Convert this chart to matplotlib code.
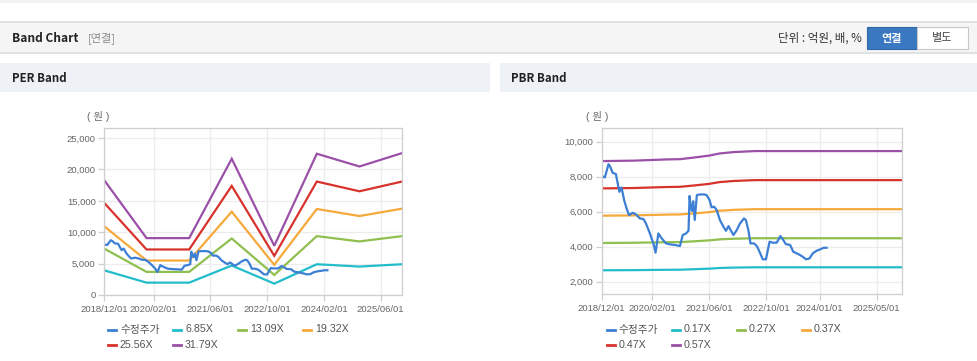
import matplotlib
matplotlib.use("Agg")
import matplotlib.pyplot as plt
import pandas as pd
from matplotlib.patches import Rectangle
from matplotlib.lines import Line2D
from matplotlib.ticker import FuncFormatter

# ---------------- data ----------------
price_dates = ["2018-12-01", "2018-12-28", "2019-01-28", "2019-02-12", "2019-03-04", "2019-04-01",
               "2019-04-22", "2019-05-01", "2019-05-19", "2019-06-10", "2019-07-01", "2019-07-22",
               "2019-08-22", "2019-09-19", "2019-10-22", "2019-11-22", "2019-12-13", "2020-01-16",
               "2020-02-16", "2020-03-04", "2020-03-28", "2020-04-25", "2020-06-01", "2020-07-10",
               "2020-08-16", "2020-09-28", "2020-10-22", "2020-11-19", "2020-12-10", "2020-12-19",
               "2020-12-28", "2021-01-08", "2021-01-19", "2021-02-01", "2021-02-19", "2021-03-16",
               "2021-04-22", "2021-05-13", "2021-06-07", "2021-06-25", "2021-07-16", "2021-08-07",
               "2021-09-04", "2021-10-04", "2021-10-25", "2021-11-16", "2021-12-04", "2021-12-28",
               "2022-01-25", "2022-02-22", "2022-03-28", "2022-04-13", "2022-05-04", "2022-05-22",
               "2022-06-22", "2022-07-19", "2022-08-13", "2022-09-04", "2022-10-01", "2022-11-01",
               "2022-11-28", "2023-01-01", "2023-02-01", "2023-02-22", "2023-03-19", "2023-04-25",
               "2023-05-22", "2023-07-04", "2023-08-10", "2023-09-07", "2023-10-07", "2023-11-04",
               "2023-12-07", "2024-01-07", "2024-02-04", "2024-03-01"]
price_values = [8040, 7960, 8720, 8570, 8230, 8150,
                7430, 7140, 7390, 6670, 6190, 5810,
                5940, 5850, 5620, 5580, 5330, 4760,
                4150, 3660, 4760, 4480, 4190, 4130,
                4100, 4040, 4670, 4760, 4910, 6900,
                6350, 6050, 6600, 5530, 6950, 6990,
                6990, 6950, 6670, 6250, 6290, 6100,
                5520, 5140, 4910, 5180, 4950, 4670,
                4950, 5330, 5620, 5520, 4950, 4190,
                4190, 4000, 3620, 3280, 3280, 4290,
                4230, 4230, 4610, 4420, 4150, 4100,
                3710, 3580, 3430, 3280, 3330, 3620,
                3770, 3850, 3940, 3940]

per_dates = ["2018-12-01", "2019-12-01", "2020-12-01", "2021-12-01",
             "2022-12-01", "2023-12-01", "2024-12-01", "2025-12-01"]
per_labels = ["6.85X", "13.09X", "19.32X", "25.56X", "31.79X"]
per_685 = [3940, 1970, 1970, 4690, 1810, 4900, 4530, 4900]
per_1309 = [7410, 3680, 3680, 9000, 3200, 9380, 8530, 9380]
per_1932 = [10980, 5490, 5490, 13270, 4800, 13700, 12580, 13750]
per_2556 = [14710, 7250, 7250, 17380, 6240, 18070, 16520, 18070]
per_3179 = [18340, 9060, 9060, 21700, 7840, 22500, 20470, 22600]

pbr_dates = ["2018-12-01", "2019-09-01", "2020-06-01", "2020-10-01", "2021-02-01",
             "2021-06-01", "2021-09-01", "2022-01-01", "2022-07-01", "2025-12-01"]
pbr_labels = ["0.17X", "0.27X", "0.37X", "0.47X", "0.57X"]
pbr_017 = [2653, 2661, 2681, 2686, 2715, 2746, 2783, 2807, 2824, 2824]
pbr_027 = [4213, 4226, 4258, 4266, 4312, 4361, 4420, 4458, 4485, 4485]
pbr_037 = [5774, 5791, 5835, 5846, 5909, 5976, 6057, 6109, 6146, 6146]
pbr_047 = [7334, 7356, 7412, 7426, 7506, 7591, 7694, 7760, 7807, 7807]
pbr_057 = [8895, 8921, 8989, 9006, 9103, 9206, 9331, 9411, 9468, 9468]

price_label = "수정주가"
per_xticks = ["2018/12/01", "2020/02/01", "2021/06/01", "2022/10/01", "2024/02/01", "2025/06/01"]
pbr_xticks = ["2018/12/01", "2020/02/01", "2021/06/01", "2022/10/01", "2024/01/01", "2025/05/01"]
per_yticks = [0, 5000, 10000, 15000, 20000, 25000]
pbr_yticks = [2000, 4000, 6000, 8000, 10000]

# ---------------- style ----------------
series_colors = ["#3d7fd4", "#22bccb", "#8fbf4e", "#f6a93b", "#d8322c", "#9b50a8"]
FONT = ["Liberation Sans", "Noto Sans CJK KR"]
KFONT = ["Noto Sans CJK KR", "DejaVu Sans"]
plt.rcParams["font.family"] = FONT

W, H = 978, 361
fig = plt.figure(figsize=(W / 100, H / 100), dpi=100)
fig.patch.set_facecolor("white")


def fx(x):
    return x / W


def fy(y):
    return 1 - y / H


def rect(x0, y0, x1, y1, **kw):
    fig.add_artist(Rectangle((fx(x0), fy(y1)), (x1 - x0) / W, (y1 - y0) / H,
                             transform=fig.transFigure, **kw))


def hline(x0, x1, y, color, lw=1):
    fig.add_artist(Line2D([fx(x0), fx(x1)], [fy(y), fy(y)], transform=fig.transFigure,
                          color=color, lw=lw))


# top faint band
rect(0, 0, W, 3, facecolor="#f3f3f3", edgecolor="none")
# header box
rect(0, 22, W, 52, facecolor="#f5f5f5", edgecolor="none")
hline(0, W, 22, "#dcdcdc", 1.2)
hline(0, W, 52.5, "#e2e2e2", 1.5)
fig.text(fx(12), fy(38.5), "Band Chart", family=KFONT, fontsize=8.6, fontweight="bold",
         color="#222222", va="center", ha="left")
fig.text(fx(88), fy(38.5), "[연결]", family=KFONT, fontsize=8.0, color="#8a8a8a",
         va="center", ha="left")
fig.text(fx(862), fy(38.5), "단위 : 억원, 배, %", family=KFONT, fontsize=8.3, color="#333333",
         va="center", ha="right")
rect(867, 27, 917, 49, facecolor="#3a79c2", edgecolor="#2f66a8", lw=0.8)
fig.text(fx(892), fy(38.5), "연결", family=KFONT, fontsize=8.0, fontweight="bold",
         color="white", va="center", ha="center")
rect(917, 27, 968, 49, facecolor="white", edgecolor="#c8c8c8", lw=0.8)
fig.text(fx(942.5), fy(38.5), "별도", family=KFONT, fontsize=8.0, color="#444444",
         va="center", ha="center")

# panel headers
rect(0, 63, 490, 92, facecolor="#eef2f7", edgecolor="none")
rect(500, 63, W, 92, facecolor="#eef2f7", edgecolor="none")
fig.text(fx(12), fy(78), "PER Band", family=KFONT, fontsize=8.3, fontweight="bold",
         color="#222222", va="center", ha="left")
fig.text(fx(511), fy(78), "PBR Band", family=KFONT, fontsize=8.3, fontweight="bold",
         color="#222222", va="center", ha="left")


def style_axes(ax, xticks, yticks, ylim):
    ax.set_xlim(pd.Timestamp("2018-12-01"), pd.Timestamp("2025-12-01"))
    ax.set_ylim(*ylim)
    tick_dates = pd.to_datetime(xticks, format="%Y/%m/%d")
    ax.set_xticks(tick_dates)
    ax.set_xticklabels(xticks)
    ax.set_yticks(yticks)
    ax.yaxis.set_major_formatter(FuncFormatter(lambda v, p: f"{v:,.0f}"))
    for s in ax.spines.values():
        s.set_color("#cfcfcf")
        s.set_linewidth(0.9)
    ax.grid(True, color="#ececec", lw=0.9)
    ax.set_axisbelow(True)
    ax.tick_params(axis="both", colors="#cfcfcf", labelcolor="#666666", labelsize=6.8,
                   length=4, width=0.9)
    ax.tick_params(axis="x", pad=3)
    ax.tick_params(axis="y", pad=2)


def legend(x_base, labels):
    for i, (lab, col) in enumerate(zip(labels, series_colors)):
        c, r = i % 4, i // 4
        x0 = x_base + c * 65
        y = 329.5 + r * 15
        fig.add_artist(Line2D([fx(x0), fx(x0 + 8)], [fy(y), fy(y)], transform=fig.transFigure,
                              color=col, lw=2))
        fig.text(fx(x0 + 12), fy(y), lab, family=FONT, fontsize=7.7, color="#555555",
                 va="center", ha="left")


# ---------------- PER ----------------
ax1 = fig.add_axes([fx(104), fy(295), 298 / W, 167 / H])
pdts = pd.to_datetime(per_dates)
for vals, col in zip([per_685, per_1309, per_1932, per_2556, per_3179], series_colors[1:]):
    ax1.plot(pdts, vals, color=col, lw=1.6, solid_joinstyle="miter")
ax1.plot(pd.to_datetime(price_dates), price_values, color=series_colors[0], lw=1.6)
style_axes(ax1, per_xticks, per_yticks, (0, 26600))
fig.text(fx(98), fy(117), "( 원 )", family=FONT, fontsize=7.5, color="#666666",
         va="center", ha="center")
legend(108, [price_label] + per_labels)

# ---------------- PBR ----------------
ax2 = fig.add_axes([fx(601.7), fy(294.3), 300 / W, 166 / H])
bdts = pd.to_datetime(pbr_dates)
for vals, col in zip([pbr_017, pbr_027, pbr_037, pbr_047, pbr_057], series_colors[1:]):
    ax2.plot(bdts, vals, color=col, lw=1.6)
ax2.plot(pd.to_datetime(price_dates), price_values, color=series_colors[0], lw=1.6)
style_axes(ax2, pbr_xticks, pbr_yticks, (1280, 10770))
fig.text(fx(597), fy(117), "( 원 )", family=FONT, fontsize=7.5, color="#666666",
         va="center", ha="center")
legend(606.7, [price_label] + pbr_labels)

fig.savefig("out.png", dpi=100, facecolor="white")
